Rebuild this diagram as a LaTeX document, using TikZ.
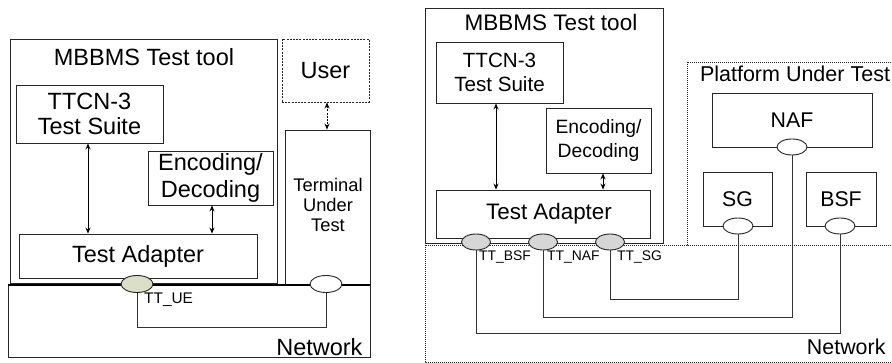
\documentclass[tikz,border=0pt]{standalone}
\usepackage{fontspec}
\setmainfont{Liberation Sans}
\usetikzlibrary{shapes.geometric,arrows.meta}

\newcommand{\fsz}[1]{\fontsize{#1}{#1}\selectfont}

\tikzset{
  box/.style={draw=black!85, line width=0.9pt, inner sep=0pt, align=center},
  port/.style={ellipse, draw=black!85, line width=0.9pt, inner sep=0pt,
               minimum width=30pt, minimum height=16pt},
  wire/.style={draw=black!80, line width=0.9pt},
  dotline/.style={draw=black!85, line width=0.9pt, dash pattern=on 1pt off 1pt},
  dblarrow/.style={line width=0.8pt, {Stealth[length=6pt,width=5pt]}-{Stealth[length=6pt,width=5pt]}},
}

\begin{document}
\begin{tikzpicture}[x=1pt, y=-1pt]
\useasboundingbox (0,0) rectangle (892,363);
\clip (0,0) rectangle (892,363);
\fill[white] (0,0) rectangle (892,363);

%% ---------------- Terminal test set-up ----------------
\draw[box] (10,39) rectangle (277,283);
\node[font=\fsz{23.5}] (title1) at (144,57) {MBBMS Test tool};

\node[box, minimum width=147pt, minimum height=58pt, font=\fsz{23.5}]
  (ttcnA) at (89.5,114) {TTCN-3\\[2pt]Test Suite};
\node[box, minimum width=125pt, minimum height=54pt, font=\fsz{23.5}]
  (encA) at (210.5,178) {Encoding/\\[3pt]Decoding};
\node[box, minimum width=238pt, minimum height=44pt, font=\fsz{23.5}]
  (taA) at (138,256) {Test Adapter};

\draw[dblarrow] (ttcnA.south -| 88,0) -- (taA.north -| 88,0);
\draw[dblarrow] (encA.south -| 212,0) -- (taA.north -| 212,0);

% user and terminal
\node[box, dashed, dash pattern=on 2pt off 1.2pt, minimum width=87pt, minimum height=63pt,
  font=\fsz{23.5}] (user) at (325.5,70.5) {User};
\node[box, minimum width=85pt, minimum height=155pt] (term) at (327.5,207.5) {};
\node[font=\fsz{18.3}, align=center] (termtxt) at (328,205)
  {Terminal\\[1.5pt]Under\\[1.5pt]Test};
\draw[dblarrow, dash pattern=on 2pt off 1.2pt] (user.south -| 327,0) -- (term.north -| 327,0);

% network
\draw[box] (8,285) rectangle (370,357);
\draw[line width=2pt, black] (8,285) -- (370,285);
\node[font=\fsz{23.5}, anchor=east] (netA) at (366,347) {Network};

\node[port, minimum width=32pt, minimum height=17pt, fill={rgb,255:red,220;green,223;blue,200}]
  (ue) at (137,284) {};
\node[port, minimum width=32pt, minimum height=17pt, fill=white] (tp) at (326,284) {};
\draw[wire] (ue.south) -- (137,327) -| (tp.south);
\node[font=\fsz{15.4}, anchor=west, inner sep=0pt] (ueL) at (144,300) {TT\_UE};

%% ---------------- Platform test set-up ----------------
\draw[dotline] (425,245) rectangle (900,362);
\draw[dotline] (687,62) rectangle (900,245);
\node[font=\fsz{21.5}] (platL) at (795,74) {Platform Under Test};
\node[font=\fsz{21.4}, anchor=east] (netB) at (889,347) {Network};

\draw[box] (425,8) rectangle (663,243);
\node[font=\fsz{22.5}] (title2) at (551,22) {MBBMS Test tool};

\node[box, minimum width=127pt, minimum height=61pt, font=\fsz{20.6}]
  (ttcnB) at (499.5,72.5) {TTCN-3\\[3pt]Test Suite};
\node[box, minimum width=105pt, minimum height=65pt, font=\fsz{19.3}]
  (encB) at (598.5,140.5) {Encoding/\\[4pt]Decoding};
\node[box, minimum width=214pt, minimum height=48pt, font=\fsz{22.4}]
  (taB) at (543,214) {\hspace{12pt}Test Adapter};

\draw[dblarrow] (ttcnB.south -| 496,0) -- (taB.north -| 496,0);
\draw[dblarrow] (encB.south -| 603,0) -- (taB.north -| 603,0);

\node[box, minimum width=160pt, minimum height=54pt, font=\fsz{21.3}] (naf) at (792,120) {NAF};
\node[box, minimum width=69pt, minimum height=54pt, font=\fsz{21.3}] (sg) at (737.5,199) {SG};
\node[box, minimum width=70pt, minimum height=54pt, font=\fsz{21.3}] (bsf) at (841,199) {BSF};

\node[port, fill=white] (nafp) at (792,147) {};
\node[port, fill=white] (sgp) at (738,226) {};
\node[port, fill=white] (bsfp) at (840,226) {};

\node[port, minimum width=29pt, minimum height=16pt, fill=black!16] (pb) at (476,242) {};
\node[port, minimum width=29pt, minimum height=16pt, fill=black!16] (pn) at (543,242) {};
\node[port, minimum width=29pt, minimum height=16pt, fill=black!16] (ps) at (610,242) {};

\draw[wire] (ps.south) -- (610,299) -| (sgp.south);
\draw[wire] (pn.south) -- (543,317) -| (nafp.south);
\draw[wire] (pb.south) -- (476,333) -| (bsfp.south);

\node[font=\fsz{13.9}, anchor=west, inner sep=0pt] (lb) at (479,257) {TT\_BSF};
\node[font=\fsz{13.9}, anchor=west, inner sep=0pt] (ln) at (547,257) {TT\_NAF};
\node[font=\fsz{13.9}, anchor=west, inner sep=0pt] (ls) at (617,257) {TT\_SG};
\end{tikzpicture}
\end{document}
